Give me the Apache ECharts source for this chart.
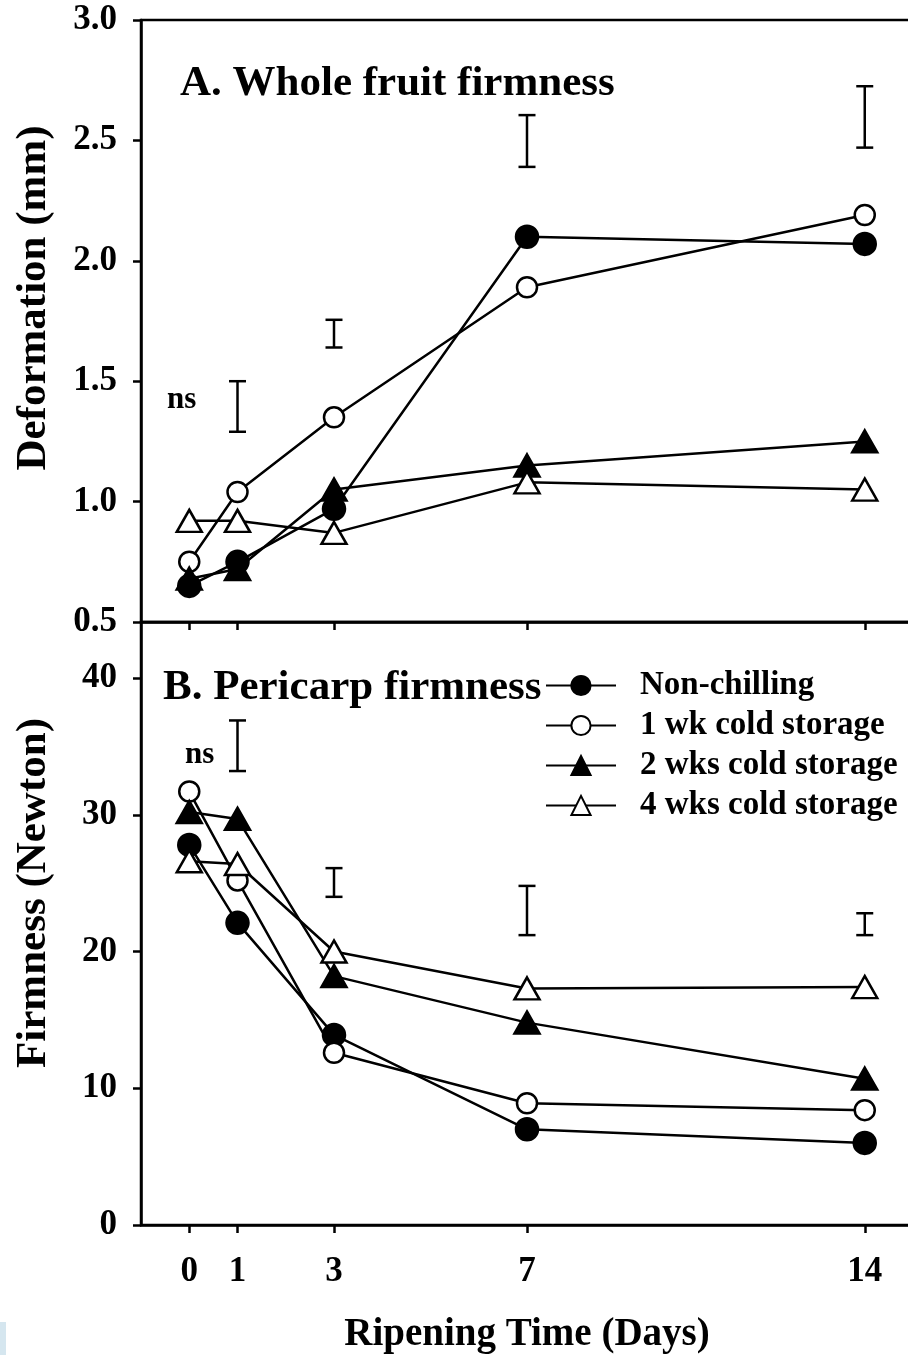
<!DOCTYPE html>
<html>
<head>
<meta charset="utf-8">
<script src="https://cdn.jsdelivr.net/npm/echarts@6/dist/echarts.min.js"></script>
<style>
  html, body { margin: 0; padding: 0; background: #fff; }
  #chart { width: 908px; height: 1355px; }
</style>
</head>
<body>
<div id="chart"></div>
<script>
// Ripening time (days) shared by both panels
const days = [0, 1, 3, 7, 14];

// Treatment names
const treatments = ['Non-chilling', '1 wk cold storage', '2 wks cold storage', '4 wks cold storage'];

// Panel A: whole fruit deformation (mm)
const deformNonChill = [0.65, 0.75, 0.97, 2.10, 2.07];
const deform1wk      = [0.75, 1.04, 1.35, 1.89, 2.19];
const deform2wk      = [0.68, 0.72, 1.05, 1.15, 1.25];
const deform4wk      = [0.92, 0.92, 0.87, 1.08, 1.05];

// Panel B: pericarp firmness (N)
const firmNonChill = [27.8, 22.1, 13.9, 7.0, 6.0];
const firm1wk      = [31.7, 25.2, 12.6, 8.9, 8.4];
const firm2wk      = [30.2, 29.7, 18.2, 14.8, 10.7];
const firm4wk      = [26.6, 26.4, 20.0, 17.3, 17.4];

// LSD bars: day, lower end, upper end
const lsdDaysA = [1, 3, 7, 14];
const lsdLowA  = [1.29, 1.64, 2.39, 2.47];
const lsdHighA = [1.50, 1.755, 2.605, 2.725];

const lsdDaysB = [1, 3, 7, 14];
const lsdLowB  = [33.2, 24.0, 21.2, 21.2];
const lsdHighB = [36.9, 26.1, 24.8, 22.8];

// Axis tick labels
const yTicksA = [0.5, 1.0, 1.5, 2.0, 2.5, 3.0];
const yTicksB = [0, 10, 20, 30, 40];

const FONT = "'Liberation Serif', 'Times New Roman', serif";
const BLACK = '#000';
const LW = 2.5;

const markerStyles = [
  { symbol: 'circle',   size: 22,       fill: BLACK },
  { symbol: 'circle',   size: 20,       fill: '#fff' },
  { symbol: 'triangle', size: [25, 22], fill: BLACK },
  { symbol: 'triangle', size: [25, 22], fill: '#fff' }
];

function zip(xs, ys) { return xs.map((x, i) => [x, ys[i]]); }

function lineSeries(name, values, idx, axisIdx) {
  const m = markerStyles[idx];
  return {
    name: name,
    type: 'line',
    xAxisIndex: axisIdx,
    yAxisIndex: axisIdx,
    data: zip(days, values),
    symbol: m.symbol,
    symbolSize: m.size,
    showAllSymbol: true,
    lineStyle: { color: BLACK, width: LW },
    itemStyle: { color: m.fill, borderColor: BLACK, borderWidth: LW, opacity: 1 },
    emphasis: { disabled: true },
    z: 3 + idx,
    animation: false
  };
}

function lsdSeries(xs, lows, highs, axisIdx) {
  return {
    type: 'custom',
    xAxisIndex: axisIdx,
    yAxisIndex: axisIdx,
    data: xs.map((x, i) => [x, lows[i], highs[i]]),
    encode: { x: 0, y: [1, 2] },
    renderItem: function (params, api) {
      const x = api.value(0);
      const pLo = api.coord([x, api.value(1)]);
      const pHi = api.coord([x, api.value(2)]);
      const w = 8.5;
      const st = { stroke: BLACK, lineWidth: LW };
      return {
        type: 'group',
        children: [
          { type: 'line', shape: { x1: pLo[0], y1: pLo[1], x2: pHi[0], y2: pHi[1] }, style: st },
          { type: 'line', shape: { x1: pLo[0] - w, y1: pLo[1], x2: pLo[0] + w, y2: pLo[1] }, style: st },
          { type: 'line', shape: { x1: pHi[0] - w, y1: pHi[1], x2: pHi[0] + w, y2: pHi[1] }, style: st }
        ]
      };
    },
    silent: true,
    animation: false
  };
}

const axisLineStyle = { color: BLACK, width: LW };
const tickLabel = { color: BLACK, fontFamily: FONT, fontWeight: 'bold', fontSize: 35 };
const titleText = { color: BLACK, fontFamily: FONT, fontWeight: 'bold', fontSize: 39 };

// The plot frame runs past the right edge of the page
const gridCommon = {
  left: 141, width: 772, show: true, borderColor: BLACK, borderWidth: LW,
  backgroundColor: 'transparent', containLabel: false, outerBoundsMode: 'none'
};

const option = {
  animation: false,
  backgroundColor: '#fff',
  grid: [
    Object.assign({ top: 20, height: 602 }, gridCommon),
    Object.assign({ top: 622, height: 603 }, gridCommon)
  ],
  xAxis: [0, 1].map(i => ({
    type: 'value',
    gridIndex: i,
    min: -1,
    max: 15,
    axisLine: { show: true, onZero: false, lineStyle: axisLineStyle },
    axisTick: { show: true, customValues: days, length: 8, lineStyle: axisLineStyle },
    axisLabel: i === 1
      ? Object.assign({ show: true, customValues: days, margin: 29 }, tickLabel)
      : { show: false },
    splitLine: { show: false },
    name: i === 1 ? 'Ripening Time (Days)' : '',
    nameLocation: 'middle',
    nameGap: 90,
    nameTextStyle: titleText
  })),
  yAxis: [
    {
      type: 'value', gridIndex: 0, min: 0.5, max: 3.0, interval: 0.5,
      axisLine: { show: true, onZero: false, lineStyle: axisLineStyle },
      axisTick: { show: true, length: 8, lineStyle: axisLineStyle },
      axisLabel: Object.assign({
        margin: 24,
        customValues: yTicksA,
        formatter: v => v.toFixed(1)
      }, tickLabel),
      splitLine: { show: false }
    },
    {
      type: 'value', gridIndex: 1, min: 0, max: 44.1, interval: 10,
      axisLine: { show: true, onZero: false, lineStyle: axisLineStyle },
      axisTick: { show: true, customValues: yTicksB, length: 8, lineStyle: axisLineStyle },
      axisLabel: Object.assign({ margin: 24, customValues: yTicksB }, tickLabel),
      splitLine: { show: false }
    }
  ],
  legend: {
    orient: 'vertical',
    left: 540,
    top: 664,
    itemWidth: 70,
    itemHeight: 24,
    itemGap: 7,
    selectedMode: false,
    data: treatments,
    textStyle: { color: BLACK, fontFamily: FONT, fontWeight: 'bold', fontSize: 33, padding: [0, 0, 0, 19] }
  },
  graphic: [
    { type: 'text', left: 180, top: 62, style: { text: 'A. Whole fruit firmness', fill: BLACK, font: 'bold 43px ' + FONT } },
    { type: 'text', left: 163, top: 666, style: { text: 'B. Pericarp firmness', fill: BLACK, font: 'bold 43px ' + FONT } },
    { type: 'text', left: 167, top: 384, style: { text: 'ns', fill: BLACK, font: 'bold 31px ' + FONT } },
    { type: 'text', left: 185, top: 739, style: { text: 'ns', fill: BLACK, font: 'bold 31px ' + FONT } },
    // rotated y-axis titles
    { type: 'text', x: 34, y: 298, rotation: Math.PI / 2,
      style: { text: 'Deformation (mm)', fill: BLACK, font: 'bold 43px ' + FONT, align: 'center', verticalAlign: 'middle' } },
    { type: 'text', x: 34, y: 893, rotation: Math.PI / 2,
      style: { text: 'Firmness (Newton)', fill: BLACK, font: 'bold 43px ' + FONT, align: 'center', verticalAlign: 'middle' } },
    { type: 'rect', left: 0, top: 1322, shape: { width: 6, height: 33 }, style: { fill: '#d5e6ef' } }
  ],
  series: [
    lsdSeries(lsdDaysA, lsdLowA, lsdHighA, 0),
    lsdSeries(lsdDaysB, lsdLowB, lsdHighB, 1),
    lineSeries(treatments[0], deformNonChill, 0, 0),
    lineSeries(treatments[1], deform1wk, 1, 0),
    lineSeries(treatments[2], deform2wk, 2, 0),
    lineSeries(treatments[3], deform4wk, 3, 0),
    lineSeries(treatments[0], firmNonChill, 0, 1),
    lineSeries(treatments[1], firm1wk, 1, 1),
    lineSeries(treatments[2], firm2wk, 2, 1),
    lineSeries(treatments[3], firm4wk, 3, 1)
  ]
};

const chart = echarts.init(document.getElementById('chart'), null, { renderer: 'canvas' });
chart.setOption(option);
</script>
</body>
</html>
